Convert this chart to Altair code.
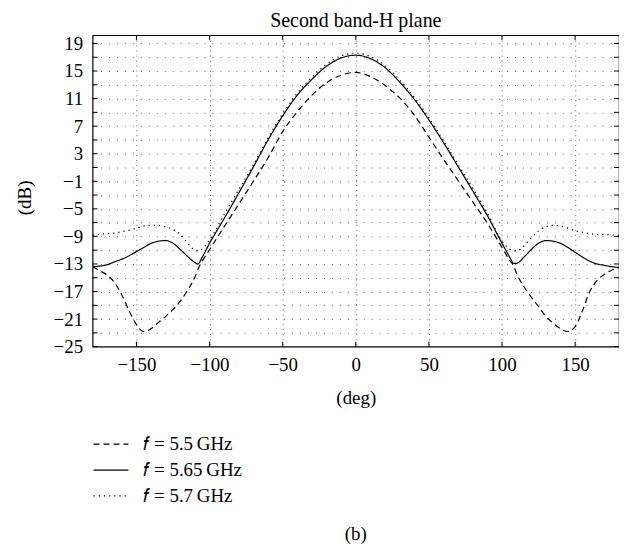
import altair as alt
import pandas as pd

deg = [-180, -175, -170, -165, -160, -155, -150, -145, -140, -135, -130, -125, -120, -115,
       -110, -108, -105, -100, -90, -80, -70, -60, -50, -40, -30, -20, -10, 0,
       10, 20, 30, 40, 50, 60, 70, 80, 90, 100, 105, 108, 110, 115, 120, 125, 130,
       135, 140, 145, 150, 155, 160, 165, 170, 175, 180]

f55 = [-13.4, -14.0, -14.6, -15.7, -17.5, -19.8, -21.8, -22.8, -22.4, -21.5, -20.6, -19.6, -18.4, -16.8,
       -14.9, -13.8, -12.6, -10.9, -7.6, -4.3, -1.0, 2.4, 6.2, 9.1, 11.5, 13.3, 14.4, 14.8,
       14.2, 12.9, 11.1, 8.6, 5.4, 2.2, -0.9, -4.0, -7.1, -10.6, -12.4, -13.3, -14.4, -16.3, -17.8, -19.2, -20.6,
       -21.6, -22.4, -22.8, -22.1, -19.8, -17.0, -15.4, -14.5, -13.9, -13.5]

f565 = [-13.4, -13.3, -13.1, -12.7, -12.3, -11.8, -11.2, -10.6, -10.0, -9.7, -9.6, -10.0, -10.9, -11.9,
        -12.8, -13.0, -12.0, -10.0, -6.4, -2.7, 1.1, 5.0, 8.5, 11.5, 13.8, 15.7, 16.9, 17.3,
        16.8, 15.5, 13.4, 10.9, 7.9, 4.6, 1.1, -2.4, -6.0, -10.0, -11.9, -12.9, -12.9, -12.0, -10.9, -10.0, -9.6,
        -9.7, -10.0, -10.6, -11.3, -12.0, -12.6, -13.0, -13.2, -13.4, -13.5]

f57 = [-8.8, -8.7, -8.6, -8.5, -8.3, -8.1, -7.8, -7.5, -7.4, -7.4, -7.6, -8.0, -8.7, -10.0,
       -11.0, -11.1, -10.8, -9.5, -5.8, -2.2, 1.4, 5.3, 8.8, 11.8, 14.1, 16.0, 17.2, 17.6,
       17.1, 15.8, 13.7, 11.2, 8.2, 4.9, 1.4, -2.0, -5.6, -9.7, -10.8, -11.1, -11.1, -10.4, -9.2, -8.2, -7.6,
       -7.4, -7.5, -7.8, -8.2, -8.4, -8.6, -8.7, -8.7, -8.8, -8.8]

series_names = ["\U0001D453 = 5.5\u2009GHz", "\U0001D453 = 5.65\u2009GHz", "\U0001D453 = 5.7\u2009GHz"]
x_ticks = [-150, -100, -50, 0, 50, 100, 150]
y_ticks = list(range(-25, 20, 2))

FONT = "Liberation Serif"
FS = 19
W, H = 529, 313

rows = []
for name, vals in zip(series_names, [f55, f565, f57]):
    for d, v in zip(deg, vals):
        rows.append({"deg": d, "dB": v, "series": name})
df = pd.DataFrame(rows)

xscale = alt.Scale(domain=[-180, 180], nice=False, zero=False)
yscale = alt.Scale(domain=[-25, 20.2], nice=False, zero=False)

lines = alt.Chart(df).mark_line(color="black", strokeWidth=1.2, interpolate="monotone").encode(
    x=alt.X("deg:Q", scale=xscale,
            axis=alt.Axis(values=x_ticks, tickCount=40, title="(deg)", grid=True, gridDash=[1, 4],
                          gridColor="#666", gridOpacity=1, ticks=False, domain=False, labelPadding=9,
                          labelOverlap=False, labelFontSize=FS, labelFont=FONT, labelColor="black",
                          titleFont=FONT, titleFontSize=FS, titleFontWeight="normal", titleColor="black",
                          titleY=51, titleBaseline="middle")),
    y=alt.Y("dB:Q", scale=yscale,
            axis=alt.Axis(values=y_ticks, tickCount=60, title="(dB)", grid=True, gridDash=[1, 7],
                          gridColor="#666", gridOpacity=1, ticks=False, domain=False, labelPadding=10,
                          labelOverlap=False,
                          labelExpr="(datum.value + 25) % 4 == 0 ? datum.label : ''",
                          labelFontSize=FS, labelFont=FONT, labelColor="black",
                          titleFont=FONT, titleFontSize=FS, titleFontWeight="normal", titleColor="black",
                          titleX=-68, titleY=163, titleBaseline="middle")),
    strokeDash=alt.StrokeDash("series:N",
                              scale=alt.Scale(domain=series_names, range=[[6, 4], [1, 0], [1.2, 4]]),
                              sort=series_names,
                              legend=alt.Legend(title=None, orient="none", legendX=0, legendY=402,
                                                symbolType="stroke", symbolSize=1225, clipHeight=18,
                                                symbolStrokeWidth=1.2, symbolStrokeColor="black",
                                                labelFont=FONT, labelFontSize=FS, labelColor="black",
                                                labelOffset=14, rowPadding=7)),
)

ydf = pd.DataFrame({"v": y_ticks})
xdf = pd.DataFrame({"v": x_ticks})

tl = alt.Chart(ydf).mark_rule(color="black", strokeWidth=1).encode(
    y=alt.Y("v:Q", scale=yscale), x=alt.value(0), x2=alt.value(5))
tr = alt.Chart(ydf).mark_rule(color="black", strokeWidth=1).encode(
    y=alt.Y("v:Q", scale=yscale), x=alt.value(W - 5), x2=alt.value(W))
tb = alt.Chart(xdf).mark_rule(color="black", strokeWidth=1).encode(
    x=alt.X("v:Q", scale=xscale), y=alt.value(H - 5), y2=alt.value(H))
tt = alt.Chart(xdf).mark_rule(color="black", strokeWidth=1).encode(
    x=alt.X("v:Q", scale=xscale), y=alt.value(0), y2=alt.value(5))

cap = alt.Chart(pd.DataFrame({"t": ["(b)"]})).mark_text(
    font=FONT, fontSize=FS, color="black", baseline="middle", align="center").encode(
    text="t:N", x=alt.value(W / 2), y=alt.value(501))

chart = alt.layer(lines, tl, tr, tb, tt, cap).properties(
    width=W, height=H,
    title=alt.TitleParams("Second band-H plane", font=FONT, fontSize=20, fontWeight="normal",
                          color="black", offset=4),
    padding={"left": 85, "top": 26, "right": 0, "bottom": 200},
    autosize=alt.AutoSizeParams(type="none"),
).resolve_scale(x="shared", y="shared").configure_view(stroke="black", strokeWidth=1.2)

chart.save("out.html", embed_options={"renderer": "svg", "actions": False})
